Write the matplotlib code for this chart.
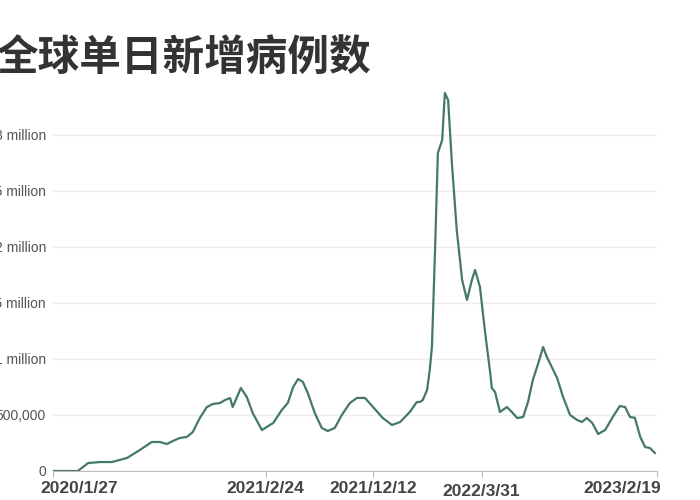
import numpy as np
import matplotlib.pyplot as plt
from matplotlib.transforms import ScaledTranslation

plt.rcParams['font.family'] = ['Liberation Sans', 'DejaVu Sans']

# days since 2020/1/27, daily new cases (thousands)
days = [0, 46, 65, 87, 109, 137, 161, 183, 198, 211, 222, 235, 248, 259, 272,
        285, 296, 309, 319, 328, 333, 348, 359, 370, 387, 396, 408, 424, 435,
        445, 454, 463, 472, 485, 498, 509, 522, 535, 550, 563, 578, 593, 611,
        628, 643, 661, 674, 680, 685, 693, 698, 702, 708, 713, 721, 726, 732,
        739, 748, 758, 767, 776, 782, 791, 800, 810, 813, 819, 828, 841, 850,
        860, 871, 880, 889, 898, 908, 915, 924, 934, 945, 958, 971, 980, 989,
        999, 1010, 1023, 1037, 1050, 1060, 1069, 1078, 1088, 1097, 1106, 1115]
cases_k = [0, 0, 71, 80, 80, 116, 188, 259, 259, 241, 268, 295, 304, 348, 473,
           571, 598, 607, 634, 652, 571, 741, 661, 518, 366, 393, 429, 545, 607,
           750, 821, 795, 696, 518, 384, 357, 384, 500, 607, 652, 652, 571, 473,
           411, 437, 527, 616, 616, 634, 723, 902, 1107, 2000, 2839, 2955, 3375, 3313,
           2750, 2152, 1705, 1527, 1705, 1795, 1643, 1259, 875, 741, 705, 527, 571, 527,
           473, 482, 616, 813, 946, 1107, 1018, 929, 830, 661, 500, 455, 438, 473,
           429, 330, 366, 482, 580, 571, 482, 475, 304, 214, 205, 161]

tick_days = [0, 394, 593, 794, 1119]
tick_labels = ['2020/1/27', '2021/2/24', '2021/12/12', '2022/3/31', '2023/2/19']
y_ticks = [0, 500000, 1000000, 1500000, 2000000, 2500000, 3000000]
y_labels = ['0', '500,000', '1 million', '1.5 million', '2 million',
            '2.5 million', '3 million']

cases = np.array(cases_k) * 1000

fig = plt.figure(figsize=(7, 5), dpi=100)
ax = fig.add_axes([53 / 700, 29 / 500, 604 / 700, 392 / 500])
ax.plot(days, cases, color='#44786a', lw=1.6)
ax.set_xlim(0, 1119)
ax.set_ylim(0, 3.5e6)

for side in ['top', 'right', 'left']:
    ax.spines[side].set_visible(False)
ax.spines['bottom'].set_color('#bbbbbb')

ax.set_yticks(y_ticks, y_labels)
ax.tick_params(axis='y', length=0, pad=5, labelsize=10, labelcolor='#555555')
ax.grid(axis='y', color='#ececec', lw=1)
ax.set_axisbelow(True)

ax.set_xticks(tick_days, tick_labels)
ax.tick_params(axis='x', length=4, color='#bbbbbb', pad=3, labelsize=12.5,
               labelcolor='#444444')
xlabs = ax.get_xticklabels()
for lab in xlabs:
    lab.set_fontweight('bold')
# first label starts a bit left of the axis, last one ends at it, 3rd sits lower
xlabs[0].set_ha('left')
xlabs[0].set_transform(xlabs[0].get_transform() + ScaledTranslation(-0.13, 0, fig.dpi_scale_trans))
xlabs[-1].set_ha('right')
xlabs[-1].set_transform(xlabs[-1].get_transform() + ScaledTranslation(0.04, 0, fig.dpi_scale_trans))
xlabs[3].set_transform(xlabs[3].get_transform() + ScaledTranslation(0, -0.03, fig.dpi_scale_trans))

fig.text(-4 / 700, 1 - 58 / 500, '全球单日新增病例数', fontsize=30, fontweight='bold',
         family=['Noto Sans CJK SC', 'DejaVu Sans'], va='center', color='#333333')

fig.savefig('out.png', dpi=100)
